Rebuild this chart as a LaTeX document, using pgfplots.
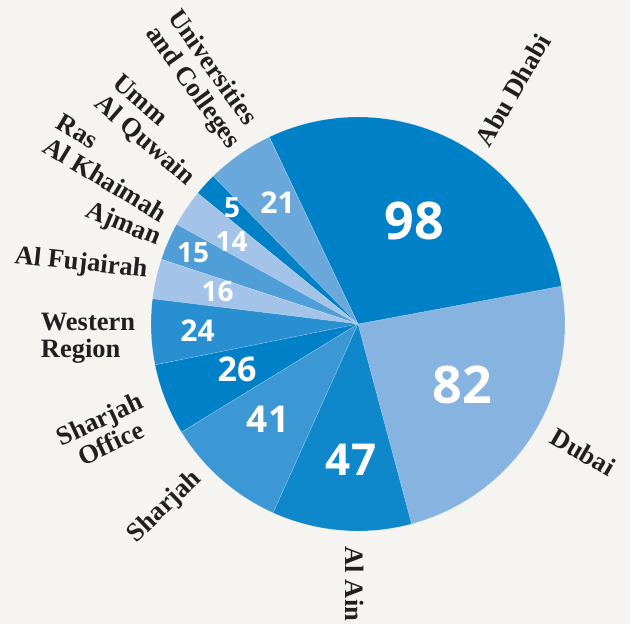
\documentclass[border=0pt]{standalone}
\usepackage{pgfplots}
\pgfplotsset{compat=1.18}
\usepackage{fontspec}
\setmainfont{Liberation Serif}
\newfontfamily\numfont{Open Sans}
\definecolor{bg}{HTML}{F5F4F0}
\definecolor{txt}{HTML}{231F20}
\definecolor{cA}{HTML}{0080C6}
\definecolor{cDubai}{HTML}{86B3DF}
\definecolor{cAin}{HTML}{0E88CA}
\definecolor{cSha}{HTML}{3C98D4}
\definecolor{cWest}{HTML}{288FD0}
\definecolor{cLight}{HTML}{A3C3E8}
\definecolor{cAjman}{HTML}{509ED7}
\definecolor{cUniv}{HTML}{6AA8DC}
\begin{document}
\begin{tikzpicture}[
  lab/.style={font=\fontsize{26.5bp}{27bp}\selectfont\bfseries, text=txt, inner sep=0pt},
  num/.style={font=\numfont\bfseries\fontsize{#1}{#1}\selectfont, text=white, inner sep=0pt},
]
\fill[bg] (0,0) rectangle (630bp,624bp);
\begin{axis}[
  at={(0,0)}, anchor=south west,
  scale only axis, width=630bp, height=624bp,
  xmin=0, xmax=630, ymin=0, ymax=624,
  hide axis, clip=false,
  slice/.style={draw=white, draw opacity=0.35, line width=0.4bp, domain=#1, samples=60, variable=\t},
]
% slices: start and end angles (deg); values in the labels
\addplot[slice={-75.0:10.55}, fill=cDubai] ({358+207*cos(\t)},{300+207*sin(\t)}) -- (axis cs:358,300) -- cycle; % Dubai 82
\addplot[slice={10.55:115.4}, fill=cA] ({358+207*cos(\t)},{300+207*sin(\t)}) -- (axis cs:358,300) -- cycle; % Abu Dhabi 98
\addplot[slice={115.4:134.4}, fill=cUniv] ({358+207*cos(\t)},{300+207*sin(\t)}) -- (axis cs:358,300) -- cycle; % Universities 21
\addplot[slice={134.4:140.8}, fill=cA] ({358+207*cos(\t)},{300+207*sin(\t)}) -- (axis cs:358,300) -- cycle; % Umm Al Quwain 5
\addplot[slice={140.8:151.2}, fill=cLight] ({358+207*cos(\t)},{300+207*sin(\t)}) -- (axis cs:358,300) -- cycle; % Ras Al Khaimah 14
\addplot[slice={151.2:161.8}, fill=cAjman] ({358+207*cos(\t)},{300+207*sin(\t)}) -- (axis cs:358,300) -- cycle; % Ajman 15
\addplot[slice={161.8:173.0}, fill=cLight] ({358+207*cos(\t)},{300+207*sin(\t)}) -- (axis cs:358,300) -- cycle; % Al Fujairah 16
\addplot[slice={173.0:191.4}, fill=cWest] ({358+207*cos(\t)},{300+207*sin(\t)}) -- (axis cs:358,300) -- cycle; % Western Region 24
\addplot[slice={191.4:211.5}, fill=cA] ({358+207*cos(\t)},{300+207*sin(\t)}) -- (axis cs:358,300) -- cycle; % Sharjah Office 26
\addplot[slice={211.5:245.8}, fill=cSha] ({358+207*cos(\t)},{300+207*sin(\t)}) -- (axis cs:358,300) -- cycle; % Sharjah 41
\addplot[slice={245.8:285.0}, fill=cAin] ({358+207*cos(\t)},{300+207*sin(\t)}) -- (axis cs:358,300) -- cycle; % Al Ain 47

% values
\node[num=52bp] at (axis cs:414.5,403) {98};
\node[num=52bp] at (axis cs:462,239) {82};
\node[num=44bp] at (axis cs:351,164) {47};
\node[num=37bp] at (axis cs:268,204.5) {41};
\node[num=34bp] at (axis cs:237,255) {26};
\node[num=30bp] at (axis cs:197.5,293) {24};
\node[num=28bp] at (axis cs:217.5,332) {16};
\node[num=28bp] at (axis cs:193,371) {15};
\node[num=28bp] at (axis cs:231.5,382) {14};
\node[num=28bp] at (axis cs:232,416) {5};
\node[num=30bp] at (axis cs:277.5,421.5) {21};

% category labels
\node[lab, rotate=60] at (axis cs:513,534) {Abu Dhabi};
\node[lab, rotate=-30] at (axis cs:583,172) {Dubai};
\node[lab, rotate=-90] at (axis cs:355,40) {Al Ain};
\node[lab, rotate=44] at (axis cs:165,117) {Sharjah};
\node[lab, rotate=25, align=center] at (axis cs:105,193) {Sharjah\\Office};
\node[lab, align=left] at (axis cs:88,286) {Western\\Region};
\node[lab, rotate=-6] at (axis cs:81,360) {Al Fujairah};
\node[lab, rotate=-22] at (axis cs:123,399) {Ajman};
\node[lab, rotate=-31, align=left] at (axis cs:112,456) {Ras\\Al Khaimah};
\node[lab, rotate=-41, align=left] at (axis cs:153,493) {Umm\\Al Quwain};
\node[lab, rotate=-54.5, align=left] at (axis cs:203,544) {Universities\\and Colleges};
\end{axis}
\end{tikzpicture}
\end{document}
